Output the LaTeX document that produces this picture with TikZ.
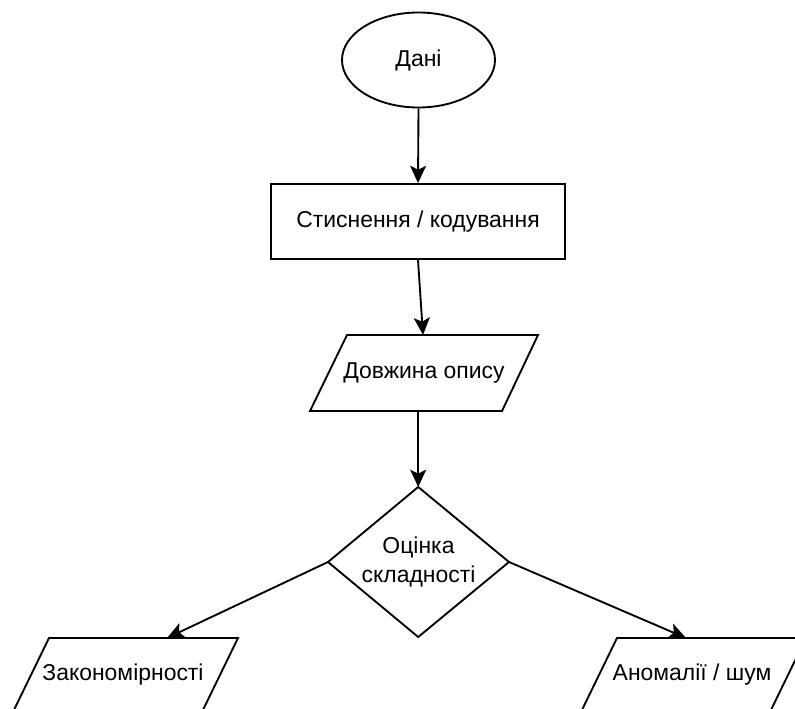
\documentclass[tikz,border=0pt]{standalone}
\usepackage{fontspec}
\setmainfont{Liberation Sans}
\usetikzlibrary{shapes.geometric,arrows.meta}
\begin{document}
\begin{tikzpicture}[x=0.75pt,y=-0.75pt,
  every node/.style={font=\fontsize{17.2}{21.5}\selectfont, inner sep=0pt},
  shp/.style={draw=black, line width=1.4pt, fill=white},
  conn/.style={line width=1.4pt, -{Stealth[length=13pt,width=12pt,inset=3pt]}}]
\useasboundingbox (0,0) rectangle (795,709);
\clip (0,0) rectangle (795,709);
\fill[white] (0,0) rectangle (795,709);
% shapes
\node[shp, ellipse, minimum width=114.75pt, minimum height=71.25pt] (dani) at (418.5,60) {Дані};
\node[shp, rectangle, minimum width=220.5pt, minimum height=56.25pt] (stysk) at (418,221.5) {Стиснення / кодування};
\draw[shp] (347,335) -- (538,335) -- (502,411) -- (310,411) -- cycle;
\node (dovz) at (424,373) {Довжина опису};
\coordinate (dtop) at (418.2,487);
\coordinate (dright) at (509,562);
\coordinate (dbot) at (418.2,637);
\coordinate (dleft) at (328,562);
\draw[shp] (dtop) -- (dright) -- (dbot) -- (dleft) -- cycle;
\node[align=center] (ocin) at (418.5,562) {Оцінка\\складності};
\draw[shp] (49,638) -- (238,638) -- (201,714) -- (12,714) -- cycle;
\node (zak) at (123,675) {Закономірності};
\draw[shp] (617,638) -- (806,638) -- (769,714) -- (580,714) -- cycle;
\node (anom) at (692,675) {Аномалії / шум};
% connector ends
\coordinate (tdovz) at (423,335);
\coordinate (bdovz) at (418.2,411);
\coordinate (tzak) at (167,638);
\coordinate (tanom) at (686,638);
% connectors
\draw[conn] (dani.south) -- (stysk.north);
\draw[conn] (stysk.south) -- (tdovz);
\draw[conn] (bdovz) -- (dtop);
\draw[conn] (dleft) -- (tzak);
\draw[conn] (dright) -- (tanom);
\end{tikzpicture}
\end{document}
